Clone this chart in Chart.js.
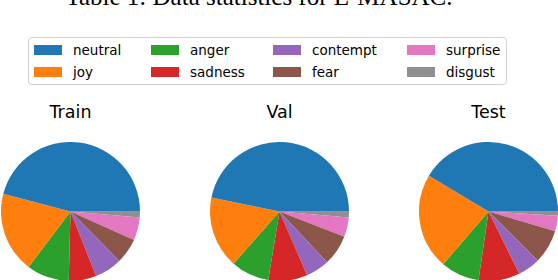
<!DOCTYPE html>
<html>
<head>
<meta charset="utf-8">
<script src="https://cdn.jsdelivr.net/npm/chart.js@4/dist/chart.umd.min.js"></script>
<style>
  html, body { margin: 0; padding: 0; background: #fff; overflow: hidden; }
  body { width: 558px; height: 280px; position: relative; font-family: "DejaVu Sans", sans-serif; }
  #caption {
    position: absolute; left: 0; width: 518px; top: -16px;
    text-align: center; font: 25px/25px "Liberation Serif", serif; color: #000; white-space: nowrap;
  }
  #legend {
    position: absolute; left: 28px; top: 37px; width: 477px; height: 46px;
    border: 1px solid #d0d0d0; border-radius: 4px; background: #fff;
  }
  .item { position: absolute; height: 16px; font-size: 13.5px; line-height: 16px; color: #000; white-space: nowrap; }
  .sw { position: absolute; left: 0; top: 3px; width: 28px; height: 10px; }
  .item span { position: absolute; left: 39px; top: 0; }
  .title { position: absolute; width: 139px; text-align: center; font-size: 17.5px; line-height: 20px; color: #000; top: 102px; }
  .pie { position: absolute; top: 142px; width: 139px; height: 139px; }
</style>
</head>
<body>
<div id="caption">Table 1: Data statistics for E-MASAC.</div>
<div id="legend"></div>

<div class="title" style="left:1px">Train</div>
<div class="title" style="left:210px">Val</div>
<div class="title" style="left:419px">Test</div>

<div class="pie" style="left:1px"><canvas id="trainPie"></canvas></div>
<div class="pie" style="left:210px"><canvas id="valPie"></canvas></div>
<div class="pie" style="left:419px"><canvas id="testPie"></canvas></div>

<script>
// Emotion classes, in legend / wedge order
const emotions = ['neutral', 'joy', 'anger', 'sadness', 'contempt', 'fear', 'surprise', 'disgust'];
const colors = ['#1f77b4', '#ff7f0e', '#2ca02c', '#d62728', '#9467bd', '#8c564b', '#e377c2', '#8f8f8f'];

// Share of utterances per class (%)
const trainShare = [45.9, 18.8, 9.9, 6.4, 6.4, 5.9, 5.3, 1.4];
const valShare = [46.8, 16.7, 8.9, 9.1, 5.5, 7.1, 4.5, 1.4];
const testShare = [41.4, 22.3, 9.0, 9.6, 5.2, 7.9, 3.6, 1.0];

// Legend columns (matplotlib fills column by column, 2 rows)
const legendCols = [5, 122, 244, 378];
const legendRows = [4, 26];

function buildLegend() {
    const box = document.getElementById('legend');
    emotions.forEach((name, i) => {
        const item = document.createElement('div');
        item.className = 'item';
        item.style.left = legendCols[Math.floor(i / 2)] + 'px';
        item.style.top = legendRows[i % 2] + 'px';
        item.innerHTML = '<div class="sw" style="background:' + colors[i] + '"></div><span>' + name + '</span>';
        box.appendChild(item);
    });
}

// matplotlib draws counter-clockwise from 3 o'clock; Chart.js goes clockwise,
// so feed the wedges reversed and start at 90 degrees
function drawPie(id, values) {
    const ctx = document.getElementById(id).getContext('2d');
    return new Chart(ctx, {
        type: 'pie',
        data: {
            labels: emotions.slice().reverse(),
            datasets: [{
                data: values.slice().reverse(),
                backgroundColor: colors.slice().reverse(),
                borderWidth: 0
            }]
        },
        options: {
            responsive: true,
            maintainAspectRatio: false,
            animation: false,
            rotation: 90,
            layout: { padding: 0 },
            plugins: {
                legend: { display: false },
                tooltip: { enabled: false }
            }
        }
    });
}

buildLegend();
drawPie('trainPie', trainShare);
drawPie('valPie', valShare);
drawPie('testPie', testShare);
</script>
</body>
</html>
